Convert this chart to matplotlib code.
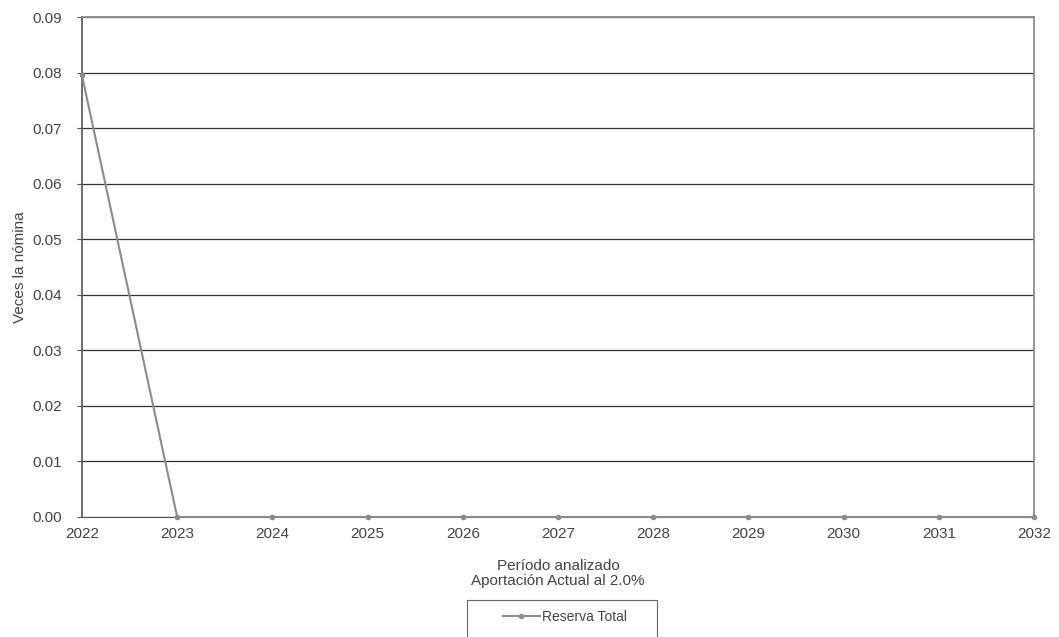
import matplotlib
matplotlib.use('Agg')
import matplotlib.pyplot as plt
from matplotlib.patches import Rectangle

# Data
years = [2022, 2023, 2024, 2025, 2026, 2027, 2028, 2029, 2030, 2031, 2032]
reserva_total = [0.0795, 0.0, 0.0, 0.0, 0.0, 0.0, 0.0, 0.0, 0.0, 0.0, 0.0]
yticks = [0.00, 0.01, 0.02, 0.03, 0.04, 0.05, 0.06, 0.07, 0.08, 0.09]

plt.rcParams['font.family'] = ['Liberation Sans', 'DejaVu Sans']

fig = plt.figure(figsize=(10.59, 6.37), dpi=100)
ax = fig.add_axes([0.0774, 0.1884, 0.8990, 0.7849])

ax.plot(years, reserva_total, color='#8c8c8c', lw=1.5, marker='o',
        markersize=3, label='Reserva Total', zorder=3, clip_on=False)

ax.set_xlim(2022, 2032)
ax.set_ylim(0, 0.09)
ax.set_xticks(years)
ax.set_yticks(yticks)
ax.yaxis.set_major_formatter(plt.FuncFormatter(lambda v, p: '{:.2f}'.format(v)))
ax.grid(axis='y', color='#333333', lw=0.9)
ax.set_axisbelow(True)

for s in ['top', 'right']:
    ax.spines[s].set_color('#8c8c8c')
    ax.spines[s].set_linewidth(1.3)
ax.spines['left'].set_color('#555555')
ax.spines['left'].set_linewidth(1.2)
ax.spines['bottom'].set_color('#555555')
ax.tick_params(axis='both', colors='#555555', labelcolor='#444444',
               labelsize=11)
ax.tick_params(axis='x', length=0, pad=7)
ax.tick_params(axis='y', length=3.6, direction='out', pad=10.8)

ax.set_ylabel('Veces la nómina', fontsize=11, color='#444444', labelpad=4)
ax.set_xlabel('Período analizado\nAportación Actual al 2.0%', fontsize=11,
              color='#444444', labelpad=13, linespacing=1.15)

# Legend box (drawn separately so it can be wider than the entry)
fig.patches.append(Rectangle((467 / 1059, -0.05), 190 / 1059, 0.05 + 37 / 637,
                             transform=fig.transFigure, fill=False,
                             edgecolor='#666666', lw=0.8))
leg = fig.legend(loc='center left', bbox_to_anchor=(503 / 1059, 1 - 617 / 637),
                 frameon=False, fontsize=10, handlelength=2.66,
                 borderpad=0, handletextpad=0.15, borderaxespad=0)
for t in leg.get_texts():
    t.set_color('#444444')

fig.savefig('out.png', dpi=100)
